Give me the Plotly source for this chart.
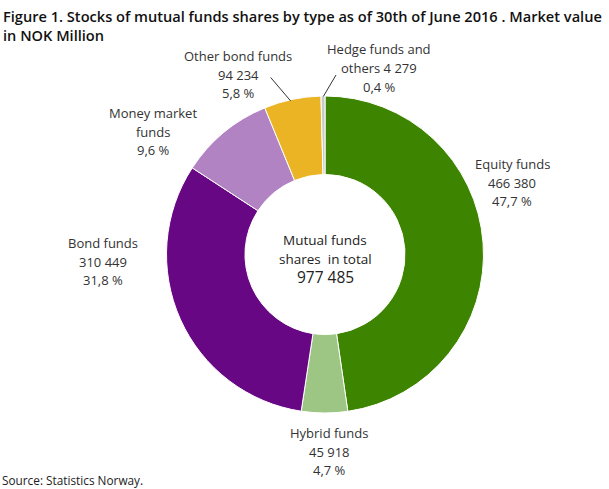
import plotly.graph_objects as go

# data (NOK million, share of total in %)
fund_types = ["Equity funds", "Hybrid funds", "Bond funds", "Money market funds",
              "Other bond funds", "Hedge funds and others"]
shares_pct = [47.7, 4.7, 31.8, 9.6, 5.8, 0.4]
label_texts = [
    ["Equity funds", "466 380", "47,7 %"],
    ["Hybrid funds", "45 918", "4,7 %"],
    ["Bond funds", "310 449", "31,8 %"],
    ["Money market", "funds", "9,6 %"],
    ["Other bond funds", "94 234", "5,8 %"],
    ["Hedge funds and", "others 4 279", "0,4 %"],
]
total_text = "977 485"
colors = ["#3d8400", "#9dc584", "#680783", "#b283c2", "#ebb424", "#c9c9c9"]

W, H = 609, 489
FONT = "Open Sans"


def px(x, y):
    return x / W, 1 - y / H


# pie geometry in pixels
cx, cy, r = 325, 254.5, 158.5

fig = go.Figure(go.Pie(
    labels=fund_types,
    values=shares_pct,
    sort=False,
    direction="clockwise",
    rotation=0,
    hole=0.505,
    marker=dict(colors=colors, line=dict(color="white", width=1)),
    textinfo="none",
    showlegend=False,
    domain=dict(x=[(cx - r) / W, (cx + r) / W], y=[1 - (cy + r) / H, 1 - (cy - r) / H]),
))

# label anchor: centre x, first line y (pixels)
label_pos = [(512, 164), (329, 433), (103, 243), (153, 113), (238, 56), (379, 49.5)]
line_gap = 18.7

annotations = []
for lines, (lx, ly) in zip(label_texts, label_pos):
    for i, t in enumerate(lines):
        xx, yy = px(lx, ly + i * line_gap)
        annotations.append(dict(x=xx, y=yy, xref="paper", yref="paper", text=t,
                                showarrow=False, xanchor="center", yanchor="middle",
                                font=dict(family=FONT, size=13, color="#333333")))

# centre text
for t, y, s in [("Mutual funds", 240, 13.5), ("shares  in total", 258.5, 13.5), (total_text, 277, 15.5)]:
    xx, yy = px(cx, y)
    annotations.append(dict(x=xx, y=yy, xref="paper", yref="paper", text=t, showarrow=False,
                            xanchor="center", yanchor="middle",
                            font=dict(family=FONT, size=s, color="#222222")))

# title and source
for t, y in [("Figure 1. Stocks of mutual funds shares by type as of 30th of June 2016 . Market value", 16),
             ("in NOK Million", 35)]:
    xx, yy = px(1, y)
    annotations.append(dict(x=xx, y=yy, xref="paper", yref="paper", text=t, showarrow=False,
                            xanchor="left", yanchor="middle",
                            font=dict(family=FONT, size=14.6, color="#111111", weight=600)))
xx, yy = px(0, 480)
annotations.append(dict(x=xx, y=yy, xref="paper", yref="paper", text="Source: Statistics Norway.",
                        showarrow=False, xanchor="left", yanchor="middle",
                        font=dict(family=FONT, size=11.8, color="#222222")))

# leader lines for the two small top slices
shapes = []
for (x0, y0), (x1, y1) in [((270.7, 77.5), (290.7, 101)), ((336, 75), (323.3, 96.5))]:
    a, b = px(x0, y0)
    c, d = px(x1, y1)
    shapes.append(dict(type="line", xref="paper", yref="paper", x0=a, y0=b, x1=c, y1=d,
                       line=dict(color="#333333", width=1)))

fig.update_layout(
    width=W, height=H,
    margin=dict(l=0, r=0, t=0, b=0),
    paper_bgcolor="white",
    annotations=annotations,
    shapes=shapes,
)

fig.write_html("out.html", config={"displayModeBar": False},
               post_script="document.body.style.margin='0px';")
